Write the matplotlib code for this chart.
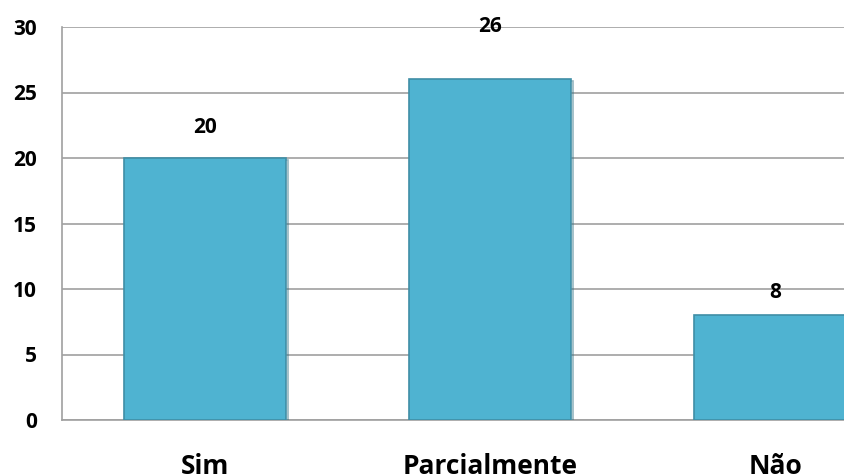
import matplotlib.pyplot as plt
import matplotlib.patheffects as pe

categories = ['Sim', 'Parcialmente', 'Não']
values = [20, 26, 8]
# label offsets above bar top (points), as placed in the original
label_offsets = [22, 38, 16]
yticks = [0, 5, 10, 15, 20, 25, 30]

plt.rcParams['font.family'] = ['Open Sans', 'DejaVu Sans']

fig = plt.figure(figsize=(8.45, 4.75), dpi=100)
# axes run past the right edge, like the cropped original
ax = fig.add_axes([62 / 845, 55 / 475, 856 / 845, 393 / 475])

x = list(range(len(categories)))
bars = ax.bar(x, values, width=0.567, color='#4fb3d1', edgecolor='#3f8ea6',
              linewidth=1.2, zorder=3)
for b in bars:
    b.set_path_effects([pe.SimpleLineShadow(offset=(1.5, -1.5), shadow_color='#2f6f82', alpha=0.5),
                        pe.Normal()])

for xi, v, off in zip(x, values, label_offsets):
    ax.annotate(str(v), (xi, v), xytext=(0, off), textcoords='offset points',
                ha='center', va='center', fontsize=15, fontweight='bold')

ax.set_xlim(-0.5, 2.5)
ax.set_ylim(0, 30)
ax.set_yticks(yticks)
ax.yaxis.grid(True, color='#a0a0a0', linewidth=1.2, zorder=0)
ax.set_axisbelow(True)

for s in ['top', 'right']:
    ax.spines[s].set_visible(False)
ax.spines['left'].set_color('#a0a0a0')
ax.spines['bottom'].set_color('#a0a0a0')
ax.spines['left'].set_linewidth(1.2)
ax.spines['bottom'].set_linewidth(1.2)

ax.set_xticks(x)
ax.set_xticklabels(categories, fontsize=19, fontweight='bold')
ax.tick_params(axis='x', length=0, pad=24)
ax.tick_params(axis='y', length=0, pad=18, labelsize=15)
for t in ax.get_yticklabels():
    t.set_fontweight('bold')

fig.savefig('out.png', dpi=100)
